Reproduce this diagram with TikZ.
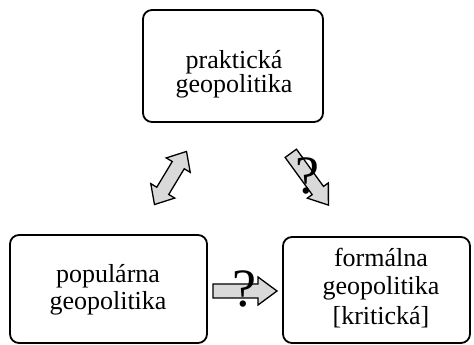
\documentclass[tikz,border=0pt]{standalone}
\usepackage{fontspec}
\setmainfont{Liberation Serif}
\begin{document}
\begin{tikzpicture}[x=1pt,y=1pt,
  box/.style={draw, line width=1.8pt, rounded corners=9pt, inner sep=0pt},
  txt/.style={anchor=base, inner sep=0pt, align=center},
  qm/.style={inner sep=0pt, font=\fontsize{54}{54}\selectfont},
  blk/.style={draw, line width=1.3pt, fill=black!15, line join=miter}]
\useasboundingbox (0,0) rectangle (474,345);
% boxes
\node[box, minimum width=180pt, minimum height=112pt] (top) at (233,279) {};
\node[box, minimum width=197pt, minimum height=108pt] (left) at (108.5,56) {};
\node[box, minimum width=187pt, minimum height=106pt] (right) at (376.5,55) {};
% texts
\node[txt, font=\fontsize{26}{23}\selectfont] (tt) at (234,252) {praktická\\geopolitika};
\node[txt, font=\fontsize{26}{27}\selectfont] (lt) at (108,35) {populárna\\geopolitika};
\node[txt, font=\fontsize{26}{28}\selectfont] (rt) at (381,20) {formálna\\geopolitika\\[2pt][kritická]};
% double arrow
\begin{scope}[shift={(170.5,167)}, rotate=58.9]
\draw[blk] (-31,0) -- (-15,14) -- (-15,7) -- (15,7) -- (15,14) -- (31,0)
  -- (15,-14) -- (15,-7) -- (-15,-7) -- (-15,-14) -- cycle;
\end{scope}
% diagonal single arrow
\begin{scope}[shift={(309.6,165.8)}, rotate=-54]
\draw[blk] (-32,7) -- (14,7) -- (14,13) -- (32,0) -- (14,-13) -- (14,-7)
  -- (-32,-7) -- cycle;
\end{scope}
\node[qm] (q1) at (307,169) {?};
% horizontal arrow
\draw[blk] (213,61) -- (258,61) -- (258,68) -- (277,54) -- (258,40)
  -- (258,47) -- (213,47) -- cycle;
\node[qm] (q2) at (244,56) {?};
\end{tikzpicture}
\end{document}
